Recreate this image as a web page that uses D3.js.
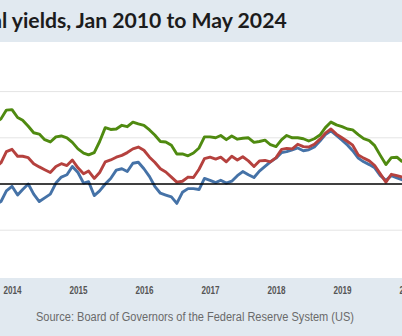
<!DOCTYPE html>
<html>
<head>
<meta charset="utf-8">
<script src="https://cdn.jsdelivr.net/npm/d3@7"></script>
<style>
  html, body { margin: 0; padding: 0; background: #ffffff; }
  svg { display: block; }
</style>
</head>
<body>
<div id="chart"></div>
<script>

  // ---------------------------//
  //            DATA            //
  // ---------------------------//

    // monthly readings, Oct 2013 .. Dec 2019 (the visible part of the chart)
    var startMonth = "2013-10";
    var monthCount = 75;

    var titleText = "Treasury real yields, Jan 2010 to May 2024";
    var sourceText = "Source: Board of Governors of the Federal Reserve System (US)";
    var yearLabels = ["2014", "2015", "2016", "2017", "2018", "2019", "2020"];
    var gridValues = [-1, 1, 2];

    var seriesNames = ["5-year", "10-year", "30-year"];

    var fiveYear = [
      -0.45, -0.38, -0.15,
      -0.05, -0.24, -0.12, 0.00, -0.22, -0.38, -0.30, -0.22, 0.02, 0.15, 0.20, 0.38,
      0.25, 0.02, 0.05, -0.25, -0.15, 0.00, 0.12, 0.30, 0.33, 0.27, 0.45, 0.47,
      0.33, 0.16, -0.05, -0.20, -0.24, -0.28, -0.42, -0.18, -0.10, -0.10, -0.12, 0.12,
      0.08, 0.03, 0.08, 0.02, 0.06, 0.18, 0.27, 0.20, 0.14, 0.28, 0.38, 0.48,
      0.56, 0.68, 0.70, 0.74, 0.78, 0.72, 0.74, 0.80, 0.93, 1.07, 1.15, 1.05,
      0.95, 0.84, 0.72, 0.56, 0.48, 0.42, 0.35, 0.18, 0.08, 0.18, 0.13, 0.09
    ];

    var tenYear = [
      0.35, 0.46, 0.70,
      0.75, 0.60, 0.60, 0.57, 0.44, 0.37, 0.31, 0.25, 0.38, 0.44, 0.40, 0.52,
      0.35, 0.22, 0.28, 0.12, 0.25, 0.48, 0.52, 0.58, 0.62, 0.68, 0.76, 0.80,
      0.73, 0.58, 0.47, 0.33, 0.26, 0.15, 0.04, 0.06, 0.15, 0.14, 0.32, 0.55,
      0.58, 0.54, 0.58, 0.48, 0.60, 0.52, 0.59, 0.50, 0.38, 0.50, 0.51, 0.48,
      0.57, 0.75, 0.77, 0.76, 0.86, 0.81, 0.80, 0.86, 0.97, 1.10, 1.19, 1.08,
      1.00, 0.92, 0.84, 0.63, 0.56, 0.50, 0.40, 0.22, 0.04, 0.21, 0.18, 0.15
    ];

    var thirtyYear = [
      1.33, 1.41, 1.60,
      1.61, 1.44, 1.38, 1.25, 1.11, 1.08, 0.96, 0.91, 1.02, 1.04, 1.00, 0.90,
      0.76, 0.67, 0.63, 0.68, 0.92, 1.22, 1.18, 1.19, 1.27, 1.24, 1.34, 1.30,
      1.27, 1.17, 1.06, 0.92, 0.91, 0.84, 0.65, 0.65, 0.61, 0.67, 0.78, 1.02,
      1.02, 1.00, 1.05, 0.96, 1.04, 0.97, 0.99, 1.00, 0.90, 0.92, 0.95, 0.85,
      0.81, 0.96, 1.05, 1.00, 1.00, 0.98, 0.93, 0.98, 1.06, 1.22, 1.34, 1.28,
      1.24, 1.19, 1.17, 1.07, 0.98, 0.94, 0.83, 0.62, 0.42, 0.57, 0.58, 0.48
    ];

    var seriesColors = ["#4572a7", "#b5413e", "#4f8a10"];

    var parseMonth = d3.timeParse("%Y-%m");
    var months = d3.range(monthCount).map(function(i) {
      return d3.timeMonth.offset(parseMonth(startMonth), i);
    });

    var series = [fiveYear, tenYear, thirtyYear].map(function(vals, k) {
      return {
        name: seriesNames[k],
        color: seriesColors[k],
        values: vals.map(function(v, i) { return { date: months[i], value: v }; })
      };
    });

  // ---------------------------//
  //         DIMENSIONS         //
  // ---------------------------//

    var width = 402;
    var height = 336;
    var headerH = 42;
    var footerTop = 278;

  // ---------------------------//
  //          CONTAINER         //
  // ---------------------------//

    var svg = d3.select("#chart")
    .append("svg")
    .attr("width", width)
    .attr("height", height)
    .attr("viewBox", [0, 0, width, height]);

    svg.append("rect")
    .attr("width", width).attr("height", headerH)
    .attr("fill", "#e1e9f0");

    svg.append("rect")
    .attr("y", footerTop)
    .attr("width", width).attr("height", height - footerTop)
    .attr("fill", "#e1e9f0");

  // ---------------------------//
  //       AXIS  AND SCALE      //
  // ---------------------------//

    var x = d3.scaleTime()
    .domain([new Date(2014, 0, 1), new Date(2019, 0, 1)])
    .range([12, 342]);

    var y = d3.scaleLinear()
    .domain([0, 1])
    .range([184, 137.8]);

    // grid lines
    svg.append("g")
    .selectAll("line")
    .data(gridValues)
    .enter()
    .append("line")
    .attr("x1", 0).attr("x2", width)
    .attr("y1", function(d) { return y(d); })
    .attr("y2", function(d) { return y(d); })
    .attr("stroke", "#e4e4e4")
    .attr("stroke-width", 1);

    var line = d3.line()
    .x(function(d) { return x(d.date); })
    .y(function(d) { return y(d.value); });

    svg.append("g")
    .selectAll("path")
    .data(series)
    .enter()
    .append("path")
    .attr("fill", "none")
    .attr("stroke", function(d) { return d.color; })
    .attr("stroke-width", 2.9)
    .attr("stroke-linejoin", "round")
    .attr("d", function(d) { return line(d.values); });

    // zero line
    svg.append("line")
    .attr("x1", 0).attr("x2", width)
    .attr("y1", y(0)).attr("y2", y(0))
    .attr("stroke", "#000")
    .attr("stroke-width", 1.6);

    var xAxis = d3.axisBottom(x)
    .tickValues(yearLabels.map(function(s) { return new Date(+s, 0, 1); }))
    .tickFormat(d3.timeFormat("%Y"))
    .tickSize(0);

    var gx = svg.append("g")
    .attr("transform", "translate(0," + 284 + ")")
    .call(xAxis);

    gx.select(".domain").remove();
    gx.selectAll("text")
    .attr("dy", "0.71em")
    .attr("fill", "#555")
    .style("font-family", "'Liberation Sans', Arial, sans-serif")
    .style("font-size", "10.5px")
    .style("font-weight", "bold")
    .attr("textLength", 18)
    .attr("lengthAdjust", "spacingAndGlyphs");

  // ---------------------------//
  //            TITLE           //
  // ---------------------------//

    var title = svg.append("text")
    .attr("x", 0)
    .attr("y", 28)
    .attr("fill", "#1c1c1c")
    .style("font-family", "Lato, 'Open Sans', sans-serif")
    .style("font-size", "21px")
    .style("font-weight", "bold")
    .text(titleText);

    // squeeze the title so "l yields ... 2024" spans the visible width
    var node = title.node();
    var cut = titleText.indexOf("l yields");
    var before = node.getSubStringLength(0, cut);
    var visible = node.getSubStringLength(cut, titleText.length - cut);
    var sx = 285 / visible;
    title.attr("transform", "translate(" + (2 - before * sx) + ",0) scale(" + sx + ",1)");

    svg.append("text")
    .attr("x", 36)
    .attr("y", 321)
    .attr("fill", "#6a6a6a")
    .attr("textLength", 318)
    .attr("lengthAdjust", "spacingAndGlyphs")
    .style("font-family", "'Liberation Sans', Arial, sans-serif")
    .style("font-size", "12.5px")
    .text(sourceText);

</script>
</body>
</html>
